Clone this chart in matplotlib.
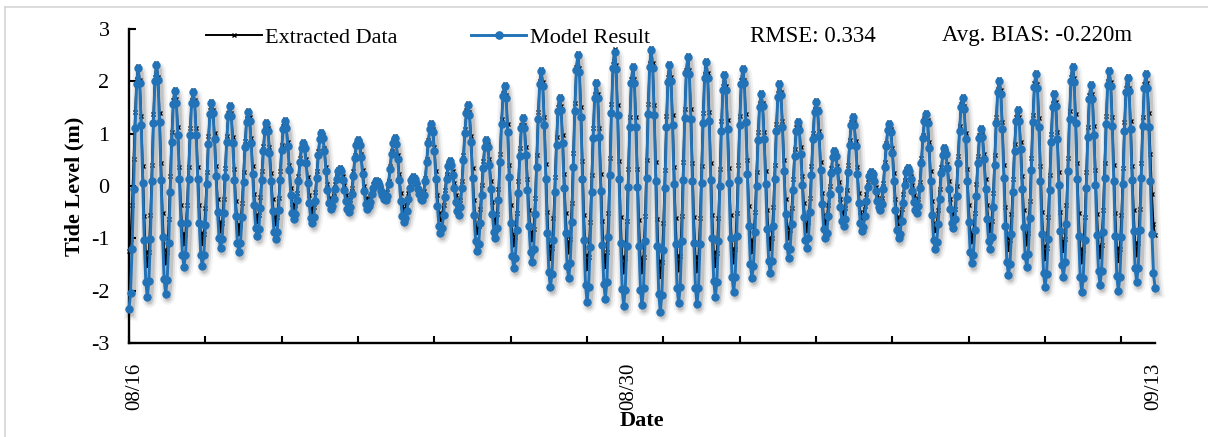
import numpy as np
import matplotlib
matplotlib.use('Agg')
from matplotlib import pyplot as plt
from matplotlib import transforms
from matplotlib.lines import Line2D

plt.rcParams['font.family'] = ['Liberation Serif', 'DejaVu Serif']
plt.rcParams['axes.unicode_minus'] = False

# hourly tide level in cm, 08/16 00:00 -> 09/13 00:00 (one row = 12 hours)
model_cm = [
    -235, -204, -120, -5, 110, 194, 225, 196, 116, 6, -103, -183,
    -212, -182, -101, 10, 120, 201, 231, 202, 122, 12, -97, -177,
    -206, -180, -109, -12, 85, 156, 182, 159, 98, 14, -70, -131,
    -154, -132, -70, 13, 97, 158, 180, 158, 97, 13, -70, -131,
    -153, -132, -75, 3, 81, 138, 159, 140, 89, 20, -50, -100,
    -119, -101, -51, 17, 84, 134, 152, 133, 82, 12, -57, -108,
    -127, -109, -60, 7, 74, 123, 141, 125, 82, 22, -37, -80,
    -96, -82, -42, 12, 66, 106, 120, 105, 64, 9, -47, -87,
    -102, -87, -45, 11, 68, 109, 124, 111, 77, 30, -17, -51,
    -64, -54, -27, 9, 46, 72, 82, 72, 44, 5, -33, -61,
    -71, -59, -28, 16, 59, 90, 102, 92, 66, 29, -7, -33,
    -43, -38, -24, -5, 14, 28, 33, 28, 12, -8, -29, -44,
    -49, -40, -15, 20, 54, 79, 88, 79, 55, 22, -10, -34,
    -43, -39, -30, -16, -3, 6, 10, 8, 1, -9, -18, -25,
    -27, -19, 3, 32, 62, 83, 91, 80, 51, 11, -28, -57,
    -68, -62, -47, -25, -4, 11, 17, 14, 6, -5, -16, -24,
    -27, -17, 9, 46, 82, 108, 118, 104, 66, 14, -38, -76,
    -90, -81, -56, -21, 13, 38, 47, 40, 21, -4, -30, -48,
    -55, -41, -3, 50, 102, 140, 154, 135, 84, 15, -55, -105,
    -124, -110, -71, -18, 35, 74, 88, 75, 41, -6, -53, -87,
    -100, -81, -27, 46, 118, 172, 191, 168, 104, 17, -70, -134,
    -157, -138, -85, -14, 58, 110, 129, 111, 60, -8, -77, -127,
    -145, -121, -54, 37, 128, 195, 219, 191, 116, 13, -90, -165,
    -193, -169, -103, -12, 78, 144, 168, 145, 82, -4, -90, -153,
    -176, -147, -69, 37, 144, 221, 250, 218, 132, 14, -103, -189,
    -221, -193, -117, -12, 92, 168, 196, 168, 93, -10, -112, -187,
    -215, -183, -97, 21, 139, 225, 257, 224, 135, 14, -108, -196,
    -229, -198, -115, -1, 113, 196, 227, 197, 113, -1, -114, -198,
    -228, -195, -106, 16, 138, 227, 260, 226, 135, 10, -115, -207,
    -240, -208, -122, -4, 113, 199, 231, 201, 117, 3, -110, -194,
    -224, -193, -106, 11, 129, 215, 246, 214, 128, 10, -108, -194,
    -226, -195, -110, 6, 121, 206, 237, 207, 125, 12, -100, -182,
    -212, -184, -106, 0, 106, 184, 212, 184, 108, 5, -99, -174,
    -202, -174, -96, 11, 117, 195, 223, 196, 123, 23, -76, -149,
    -176, -152, -88, 0, 87, 151, 175, 152, 89, 4, -82, -144,
    -167, -143, -76, 14, 105, 171, 195, 173, 112, 29, -54, -115,
    -137, -120, -72, -7, 58, 106, 123, 107, 62, 2, -59, -103,
    -119, -100, -49, 21, 90, 141, 160, 143, 95, 30, -35, -83,
    -100, -89, -58, -16, 25, 56, 67, 57, 31, -5, -41, -67,
    -77, -63, -25, 27, 79, 117, 131, 116, 77, 22, -32, -71,
    -86, -78, -58, -29, -1, 19, 27, 22, 9, -10, -28, -41,
    -46, -35, -5, 36, 77, 107, 118, 103, 63, 9, -46, -85,
    -100, -91, -66, -32, 1, 26, 35, 29, 13, -9, -30, -46,
    -52, -39, -4, 43, 91, 125, 138, 121, 73, 9, -56, -103,
    -120, -107, -72, -24, 24, 59, 72, 62, 34, -5, -43, -71,
    -81, -64, -19, 44, 106, 151, 168, 147, 89, 10, -69, -127,
    -148, -131, -84, -20, 44, 91, 108, 93, 51, -6, -63, -105,
    -120, -98, -40, 41, 121, 179, 201, 176, 108, 15, -77, -145,
    -170, -149, -91, -12, 66, 124, 145, 125, 70, -5, -79, -134,
    -154, -129, -62, 30, 122, 189, 214, 187, 112, 10, -91, -166,
    -193, -168, -101, -8, 84, 151, 176, 153, 89, 1, -86, -150,
    -173, -146, -73, 28, 128, 201, 228, 199, 120, 13, -95, -173,
    -202, -176, -103, -4, 94, 167, 193, 167, 97, 2, -94, -163,
    -189, -162, -87, 16, 118, 193, 220, 192, 115, 10, -95, -172,
    -200, -173, -98, 4, 105, 180, 207, 181, 109, 12, -86, -157,
    -183, -156, -84, 16, 115, 187, 214, 187, 112, 10, -92, -167,
    -194,
]

extracted_cm = [
    -125, -101, -36, 52, 141, 205, 229, 203, 133, 38, -58, -127,
    -153, -127, -56, 41, 138, 209, 235, 209, 139, 43, -52, -122,
    -148, -126, -64, 19, 103, 164, 186, 166, 112, 37, -37, -91,
    -111, -91, -37, 37, 110, 164, 184, 164, 110, 37, -37, -90,
    -110, -92, -42, 27, 95, 145, 163, 146, 101, 38, -24, -69,
    -86, -70, -25, 35, 96, 140, 156, 139, 94, 32, -29, -74,
    -91, -75, -32, 27, 86, 129, 145, 131, 91, 38, -16, -55,
    -69, -56, -21, 28, 76, 111, 124, 111, 75, 25, -24, -60,
    -73, -60, -23, 28, 78, 115, 128, 116, 84, 41, -3, -34,
    -46, -37, -13, 20, 53, 77, 86, 77, 52, 17, -17, -42,
    -51, -40, -12, 28, 67, 95, 106, 97, 72, 37, 3, -22,
    -31, -26, -14, 3, 20, 32, 37, 32, 19, 1, -17, -30,
    -35, -26, -3, 29, 60, 83, 92, 84, 61, 30, 0, -23,
    -31, -28, -20, -8, 3, 11, 14, 12, 6, -3, -11, -17,
    -19, -11, 10, 38, 67, 87, 95, 85, 59, 23, -13, -39,
    -49, -44, -31, -14, 4, 16, 21, 18, 11, 1, -9, -16,
    -19, -10, 16, 52, 87, 113, 122, 109, 75, 28, -18, -52,
    -65, -57, -36, -7, 22, 43, 51, 45, 28, 5, -17, -34,
    -40, -27, 10, 59, 109, 145, 158, 141, 96, 34, -27, -72,
    -89, -77, -44, 2, 47, 80, 92, 81, 51, 10, -31, -61,
    -72, -54, -5, 62, 128, 177, 195, 174, 118, 41, -36, -92,
    -113, -97, -51, 10, 72, 117, 133, 117, 74, 14, -45, -88,
    -104, -82, -22, 60, 141, 201, 223, 199, 132, 42, -49, -115,
    -139, -118, -61, 17, 94, 151, 172, 152, 97, 22, -52, -107,
    -127, -101, -32, 64, 159, 228, 254, 226, 151, 47, -56, -131,
    -159, -135, -69, 21, 110, 176, 200, 176, 111, 22, -66, -131,
    -155, -127, -51, 53, 157, 233, 261, 232, 154, 48, -59, -136,
    -165, -138, -66, 33, 132, 204, 231, 205, 132, 33, -65, -138,
    -164, -135, -57, 50, 157, 235, 264, 235, 155, 45, -64, -144,
    -173, -146, -71, 31, 133, 208, 235, 208, 136, 37, -62, -134,
    -161, -133, -58, 45, 147, 222, 250, 222, 147, 43, -60, -135,
    -163, -136, -62, 39, 140, 214, 241, 215, 142, 44, -55, -127,
    -153, -128, -61, 32, 124, 191, 216, 192, 126, 35, -55, -121,
    -145, -120, -52, 41, 134, 202, 227, 203, 138, 50, -39, -103,
    -127, -106, -50, 26, 103, 158, 179, 159, 104, 29, -45, -100,
    -120, -99, -40, 40, 119, 178, 199, 179, 124, 50, -25, -79,
    -99, -84, -42, 14, 71, 112, 127, 113, 74, 20, -33, -72,
    -86, -69, -23, 39, 102, 147, 164, 148, 105, 46, -13, -56,
    -72, -62, -36, 0, 35, 61, 71, 63, 39, 8, -24, -47,
    -55, -42, -7, 40, 88, 122, 135, 122, 86, 36, -13, -49,
    -62, -56, -39, -15, 8, 25, 31, 27, 15, -1, -17, -29,
    -33, -23, 6, 45, 83, 112, 122, 109, 73, 25, -24, -59,
    -72, -65, -44, -16, 11, 32, 39, 34, 20, 1, -18, -32,
    -37, -25, 8, 53, 97, 130, 142, 127, 85, 28, -29, -71,
    -86, -75, -45, -5, 36, 65, 76, 67, 42, 9, -25, -49,
    -58, -43, 0, 57, 115, 157, 172, 153, 102, 32, -37, -88,
    -107, -92, -52, 3, 57, 97, 112, 99, 62, 13, -37, -73,
    -86, -67, -13, 60, 132, 186, 205, 183, 123, 41, -40, -100,
    -122, -104, -54, 14, 81, 131, 149, 132, 84, 19, -46, -94,
    -111, -89, -29, 54, 136, 196, 218, 194, 129, 39, -50, -115,
    -139, -118, -59, 21, 100, 159, 180, 160, 104, 27, -49, -105,
    -125, -101, -36, 54, 143, 208, 232, 207, 138, 43, -51, -120,
    -145, -122, -59, 26, 112, 174, 197, 175, 114, 30, -53, -114,
    -136, -112, -46, 44, 134, 200, 224, 199, 132, 40, -52, -119,
    -144, -120, -55, 34, 122, 187, 211, 188, 125, 39, -46, -109,
    -132, -109, -44, 43, 131, 195, 218, 197, 140, 62, -16, -73,
    -94,
]

date_labels = ['08/16', '08/30', '09/13']
series_names = ['Extracted Data', 'Model Result']
stats_labels = ['RMSE: 0.334', 'Avg. BIAS: -0.220m']

model = np.array(model_cm) / 100
extracted = np.array(extracted_cm) / 100
hours = np.arange(len(model))

W, H = 1208, 437
fig = plt.figure(figsize=(W / 100, H / 100), dpi=100)
ax = fig.add_axes([129 / W, 1 - 343 / H, 1026 / W, 314 / H])

blue = '#2272b8'

ax.plot(hours, extracted, color='black', lw=1.4, marker='x', ms=3,
        mew=1.0, zorder=2, clip_on=False)

# blurred drop shadow like the excel "outer shadow" effect
shadow = transforms.offset_copy(ax.transData, fig=fig, x=1.5, y=-3,
                                units='points')
for lw, a in [(10, 0.05), (7, 0.08), (4.5, 0.12)]:
    ax.plot(hours, model, color='black', lw=lw, alpha=a, transform=shadow,
            zorder=3, clip_on=False)
ax.plot(hours, model, color=blue, lw=2.1, marker='o', ms=5.2, mec=blue,
        mew=0.8, zorder=4, clip_on=False)

ax.set_xlim(0, len(model) - 1)
ax.set_ylim(-3, 3)
ax.set_yticks(range(-3, 4))

# excel category axis: a tick every 50 hours, three date labels
ax.set_xticks(np.arange(0, len(model), 50))
ax.set_xticklabels([])
ax.set_xticks([4, 327, 671], minor=True)
ax.set_xticklabels(date_labels, minor=True, rotation=90, fontsize=15)
ax.tick_params(axis='x', which='minor', length=0, pad=14)
ax.tick_params(axis='both', which='major', direction='in', length=5,
               width=1.5, labelsize=16)
ax.tick_params(axis='y', pad=14)

for side in ['top', 'right']:
    ax.spines[side].set_visible(False)
for side in ['left', 'bottom']:
    ax.spines[side].set_linewidth(1.7)

ax.set_ylabel('Tide Level (m)', fontsize=16, fontweight='bold', labelpad=5)
ax.set_xlabel('Date', fontsize=16, fontweight='bold', labelpad=1)

handles = [Line2D([], [], color='black', lw=1.4, marker='x', ms=3),
           Line2D([], [], color=blue, lw=2.1, marker='o', ms=5.2)]
fig.legend(handles, series_names, loc='center left',
           bbox_to_anchor=(206 / W, 1 - 38 / H), ncol=2, frameon=False,
           fontsize=16, handlelength=2.5, handletextpad=0.15,
           columnspacing=3.3, borderpad=0, borderaxespad=0)

fig.text(750 / W, 1 - 36 / H, stats_labels[0], fontsize=16.5, va='center')
fig.text(942 / W, 1 - 36 / H, stats_labels[1], fontsize=16.5, va='center')

# light chart border
fig.add_artist(Line2D([5 / W, 1], [1 - 7 / H, 1 - 7 / H], color='#d6d6d6',
                      lw=1.2, transform=fig.transFigure))
fig.add_artist(Line2D([5 / W, 5 / W], [0, 1 - 7 / H], color='#d6d6d6',
                      lw=1.2, transform=fig.transFigure))

fig.savefig('out.png', dpi=100)
